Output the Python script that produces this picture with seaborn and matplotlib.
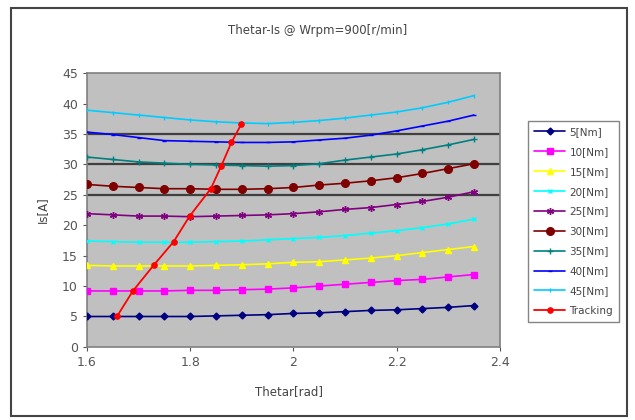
import numpy as np
import pandas as pd
import seaborn as sns
import matplotlib
matplotlib.use("Agg")
import matplotlib.pyplot as plt
from matplotlib.patches import Rectangle

theta = [1.6, 1.65, 1.7, 1.75, 1.8, 1.85, 1.9, 1.95, 2.0, 2.05, 2.1, 2.15, 2.2, 2.25, 2.3, 2.35]
is_5 = [5.0, 5.0, 5.0, 5.0, 5.0, 5.1, 5.2, 5.3, 5.5, 5.6, 5.8, 6.0, 6.1, 6.3, 6.5, 6.8]
is_10 = [9.2, 9.2, 9.2, 9.2, 9.3, 9.3, 9.4, 9.5, 9.7, 10.0, 10.3, 10.6, 10.9, 11.1, 11.5, 11.9]
is_15 = [13.4, 13.3, 13.3, 13.3, 13.3, 13.4, 13.5, 13.65, 13.9, 14.0, 14.3, 14.6, 15.0, 15.5, 16.0, 16.5]
is_20 = [17.4, 17.3, 17.2, 17.2, 17.2, 17.3, 17.4, 17.6, 17.8, 18.0, 18.3, 18.7, 19.1, 19.6, 20.2, 21.0]
is_25 = [21.9, 21.7, 21.5, 21.5, 21.4, 21.5, 21.6, 21.7, 21.9, 22.2, 22.6, 22.9, 23.4, 23.9, 24.6, 25.5]
is_30 = [26.7, 26.4, 26.2, 26.0, 26.0, 25.9, 25.9, 26.0, 26.2, 26.6, 26.9, 27.3, 27.8, 28.5, 29.3, 30.1]
is_35 = [31.2, 30.8, 30.4, 30.2, 30.0, 29.9, 29.8, 29.7, 29.8, 30.1, 30.7, 31.2, 31.7, 32.4, 33.2, 34.1]
is_40 = [35.3, 34.9, 34.4, 33.9, 33.8, 33.7, 33.6, 33.6, 33.7, 34.0, 34.3, 34.8, 35.5, 36.3, 37.1, 38.1]
is_45 = [38.9, 38.5, 38.1, 37.7, 37.3, 37.0, 36.8, 36.7, 36.9, 37.2, 37.6, 38.1, 38.6, 39.3, 40.2, 41.3]
track_theta = [1.658, 1.689, 1.729, 1.768, 1.799, 1.840, 1.860, 1.880, 1.899]
track_is = [5.0, 9.2, 13.4, 17.3, 21.5, 26.0, 29.7, 33.6, 36.6]
ref_lines = [25, 30, 35]

labels = ["5[Nm]", "10[Nm]", "15[Nm]", "20[Nm]", "25[Nm]", "30[Nm]", "35[Nm]", "40[Nm]", "45[Nm]"]
series = [is_5, is_10, is_15, is_20, is_25, is_30, is_35, is_40, is_45]
colors = ["#000080", "#FF00FF", "#FFFF00", "#00FFFF", "#800080", "#800000", "#008080", "#0000FF", "#00CCFF"]
markers = ["D", "s", "^", "x", (6, 2, 0), "o", "+", "_", "|"]
msizes = [3.5, 5, 5, 2.5, 5, 5.5, 5, 3.5, 2.5]

sns.set_style("white")
plt.rcParams['font.family'] = ['DejaVu Sans']

fig = plt.figure(figsize=(6.35, 4.2), dpi=100)
fig.patches.append(Rectangle((0.018, 0.01), 0.97, 0.972, transform=fig.transFigure,
                             fill=False, edgecolor="#444444", lw=1.5))
ax = fig.add_axes([0.137, 0.174, 0.650, 0.652])
ax.set_facecolor("#C0C0C0")

for yv in ref_lines:
    ax.axhline(yv, color="#404040", lw=1.6, zorder=1)

rows = []
for lab, vals in zip(labels, series):
    for t, v in zip(theta, vals):
        rows.append({"theta": t, "Is": v, "series": lab})
df = pd.DataFrame(rows)

for lab, col, mk, ms in zip(labels, colors, markers, msizes):
    sub = df[df["series"] == lab]
    sns.lineplot(data=sub, x="theta", y="Is", ax=ax, color=col, marker=mk,
                 markersize=ms, markeredgecolor=col, markeredgewidth=1.0,
                 lw=1.2, label=lab, zorder=3, sort=False)

tdf = pd.DataFrame({"theta": track_theta, "Is": track_is})
sns.lineplot(data=tdf, x="theta", y="Is", ax=ax, color="#FF0000", marker="o",
             markersize=4, markeredgecolor="#FF0000", lw=1.3, label="Tracking",
             zorder=4, sort=False)

ax.set_xlim(1.6, 2.4)
ax.set_ylim(0, 45)
ax.set_xticks([1.6, 1.8, 2.0, 2.2, 2.4])
ax.set_xticklabels(["1.6", "1.8", "2", "2.2", "2.4"])
ax.set_yticks(range(0, 50, 5))
ax.tick_params(axis="both", labelsize=9, colors="#555555", length=3, direction="out",
               bottom=True, left=True)
for s in ax.spines.values():
    s.set_color("#808080")
    s.set_linewidth(1.2)
ax.set_xlabel("")
ax.set_ylabel("")

fig.text(0.5, 0.927, "Thetar-Is @ Wrpm=900[r/min]", ha="center", va="center",
         fontsize=8.5, color="#444444")
fig.text(0.455, 0.067, "Thetar[rad]", ha="center", va="center", fontsize=8.5, color="#444444")
fig.text(0.066, 0.50, "Is[A]", ha="center", va="center", rotation=90, fontsize=8.5, color="#444444")

leg = ax.legend(loc="upper left", bbox_to_anchor=(0.823, 0.725), bbox_transform=fig.transFigure,
                frameon=True, fancybox=False, fontsize=7.5, labelspacing=0.95,
                handlelength=3.0, borderpad=0.6, handletextpad=0.4)
leg.get_frame().set_edgecolor("#666666")
leg.get_frame().set_linewidth(1.0)
for t in leg.get_texts():
    t.set_color("#444444")

fig.savefig("out.png", dpi=100)
